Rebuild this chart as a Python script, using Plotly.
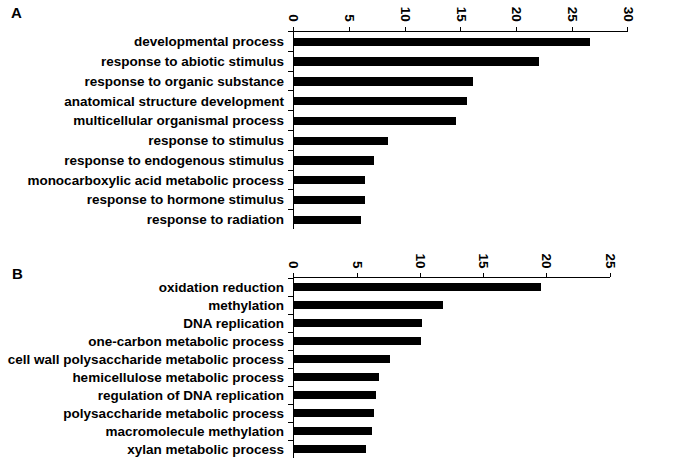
import plotly.graph_objects as go

cats_a = ["developmental process", "response to abiotic stimulus", "response to organic substance",
          "anatomical structure development", "multicellular organismal process", "response to stimulus",
          "response to endogenous stimulus", "monocarboxylic acid metabolic process",
          "response to hormone stimulus", "response to radiation"]
vals_a = [26.6, 22.0, 16.1, 15.5, 14.5, 8.4, 7.2, 6.4, 6.4, 6.0]

cats_b = ["oxidation reduction", "methylation", "DNA replication", "one-carbon metabolic process",
          "cell wall polysaccharide metabolic process", "hemicellulose metabolic process",
          "regulation of DNA replication", "polysaccharide metabolic process",
          "macromolecule methylation", "xylan metabolic process"]
vals_b = [19.5, 11.8, 10.1, 10.0, 7.6, 6.7, 6.5, 6.3, 6.2, 5.7]

ticks_a = [0, 5, 10, 15, 20, 25, 30]
ticks_b = [0, 5, 10, 15, 20, 25]

FONT = "Liberation Sans, Arial, sans-serif"

fig = go.Figure()
fig.add_trace(go.Bar(x=vals_a, y=cats_a, orientation="h", marker_color="black",
                     marker_line_width=0, width=0.42, xaxis="x", yaxis="y"))
fig.add_trace(go.Bar(x=vals_b, y=cats_b, orientation="h", marker_color="black",
                     marker_line_width=0, width=0.44, xaxis="x2", yaxis="y2"))

W, H = 680, 465
def fx(px): return min(1, max(0, px / W))
def fy(py): return min(1, max(0, 1 - py / H))

tickfont = dict(family=FONT, size=13.5, color="black", weight="bold")
xcommon = dict(side="top", showline=True, linecolor="black", linewidth=1.3, ticks="outside",
               ticklen=4, tickwidth=1.3, tickcolor="black", tickangle=90, showgrid=False,
               zeroline=False, tickfont=tickfont, fixedrange=True)
ycommon = dict(showline=True, linecolor="black", linewidth=1.3, ticks="outside", ticklen=5,
               tickwidth=1.3, tickcolor="black", tickson="boundaries", showgrid=False,
               tickfont=tickfont, autorange="reversed", type="category", ticklabelstandoff=6)

fig.update_layout(
    width=W, height=H, margin=dict(l=0, r=0, t=0, b=0),
    paper_bgcolor="white", plot_bgcolor="white", showlegend=False, bargap=0,
    xaxis=dict(domain=[fx(293.3), fx(635)], range=[0, 30], tickvals=ticks_a, anchor="y", **xcommon),
    yaxis=dict(domain=[fy(229.3), fy(31.7)], anchor="x", categoryorder="array",
               categoryarray=cats_a, **ycommon),
    xaxis2=dict(domain=[fx(293.3), fx(616.7)], range=[0, 25], tickvals=ticks_b, anchor="y2", **xcommon),
    yaxis2=dict(domain=[fy(458.3), fy(278.3)], anchor="x2", categoryorder="array",
                categoryarray=cats_b, **ycommon),
    annotations=[
        dict(text="A", x=fx(10), y=fy(13), xref="paper", yref="paper", xanchor="center", yanchor="middle",
             showarrow=False, font=dict(family=FONT, size=15, color="black", weight="bold")),
        dict(text="B", x=fx(10.5), y=fy(273), xref="paper", yref="paper", xanchor="center", yanchor="middle",
             showarrow=False, font=dict(family=FONT, size=15, color="black", weight="bold")),
    ],
)

fig.write_html("out.html", config={"displayModeBar": False},
               post_script="document.body.style.margin='0';document.body.style.overflow='hidden';")
